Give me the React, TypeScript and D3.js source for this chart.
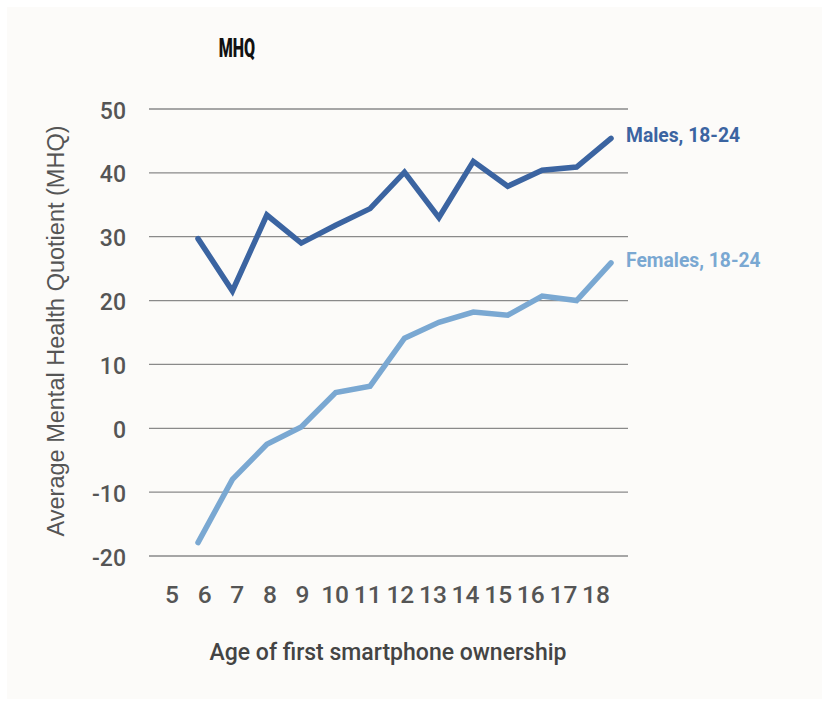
import React, { useRef, useEffect } from "react";
import * as d3 from "d3";

const ages = [6, 7, 8, 9, 10, 11, 12, 13, 14, 15, 16, 17, 18];
const males = [29.7, 21.5, 33.4, 29.0, 31.8, 34.4, 40.1, 33.0, 41.8, 37.9, 40.4, 40.9, 45.4];
const females = [-17.9, -8.0, -2.5, 0.2, 5.6, 6.6, 14.1, 16.6, 18.2, 17.7, 20.7, 20.0, 25.9];
const ageLabels = [5, 6, 7, 8, 9, 10, 11, 12, 13, 14, 15, 16, 17, 18];
const yTicks = [-20, -10, 0, 10, 20, 30, 40, 50];

const W = 829;
const H = 706;

export default function App() {
  const svgRef = useRef<SVGSVGElement>(null);

  useEffect(() => {
    const svg = d3.select(svgRef.current);
    svg.selectAll("*").remove();

    //white page edge, then the off-white card
    svg.append("rect").attr("width", W).attr("height", H).attr("fill", "#ffffff");
    svg.append("rect").attr("x", 7).attr("y", 7).attr("width", W - 14).attr("height", H - 14).attr("fill", "#fcfbf9");

    const x = d3.scaleLinear().domain([6, 18]).range([198, 611]);
    const y = d3.scaleLinear().domain([-20, 50]).range([556, 109]);
    //tick labels are packed on their own, not under the points
    const xLab = d3.scalePoint<number>().domain(ageLabels).range([172, 596]);

    //gridlines
    svg.append("g")
      .selectAll("line")
      .data(yTicks)
      .join("line")
      .attr("x1", 149)
      .attr("x2", 628)
      .attr("y1", (d) => y(d))
      .attr("y2", (d) => y(d))
      .attr("stroke", "#8a8a8a")
      .attr("stroke-width", 1.3);

    svg.append("g")
      .selectAll("text")
      .data(yTicks)
      .join("text")
      .attr("x", 126)
      .attr("y", (d) => y(d) + 9.5)
      .attr("text-anchor", "end")
      .style("font", "500 23px Roboto")
      .attr("fill", "#555555")
      .text((d) => d);

    svg.append("g")
      .selectAll("text")
      .data(ageLabels)
      .join("text")
      .attr("x", (d) => xLab(d)!)
      .attr("y", 603)
      .attr("text-anchor", "middle")
      .style("font", "500 24.5px Roboto")
      .attr("fill", "#555555")
      .text((d) => d);

    const line = d3.line<number>().x((d, i) => x(ages[i])).y((d) => y(d));

    //series lines
    [
      { vals: females, color: "#7aa8d2", label: "Females, 18-24" },
      { vals: males, color: "#3b64a1", label: "Males, 18-24" },
    ].forEach((s) => {
      svg.append("path")
        .datum(s.vals)
        .attr("d", line)
        .attr("fill", "none")
        .attr("stroke", s.color)
        .attr("stroke-width", 5.5)
        .attr("stroke-linecap", "round")
        .attr("stroke-linejoin", "miter");
      svg.append("text")
        .attr("x", 626)
        .attr("y", y(s.vals[s.vals.length - 1]) + 4)
        .style("font", "bold 19.3px Roboto")
        .attr("fill", s.color)
        .text(s.label);
    });

    //condensed bold title
    svg.append("text")
      .attr("transform", "translate(237,57) scale(0.64,1)")
      .attr("text-anchor", "middle")
      .style("font", "900 25px Roboto")
      .attr("fill", "#111111")
      .text("MHQ");

    svg.append("text")
      .attr("x", 388)
      .attr("y", 660)
      .attr("text-anchor", "middle")
      .style("font", "500 23px Roboto")
      .attr("fill", "#444444")
      .text("Age of first smartphone ownership");

    svg.append("text")
      .attr("transform", "translate(64,331) rotate(-90)")
      .attr("text-anchor", "middle")
      .style("font", "23.5px 'Liberation Sans', Arial")
      .attr("fill", "#555555")
      .text("Average Mental Health Quotient (MHQ)");
  }, []);

  return (
    <svg
      ref={svgRef}
      width={W}
      height={H}
      style={{ position: "absolute", left: 0, top: 0 }}
    ></svg>
  );
}
